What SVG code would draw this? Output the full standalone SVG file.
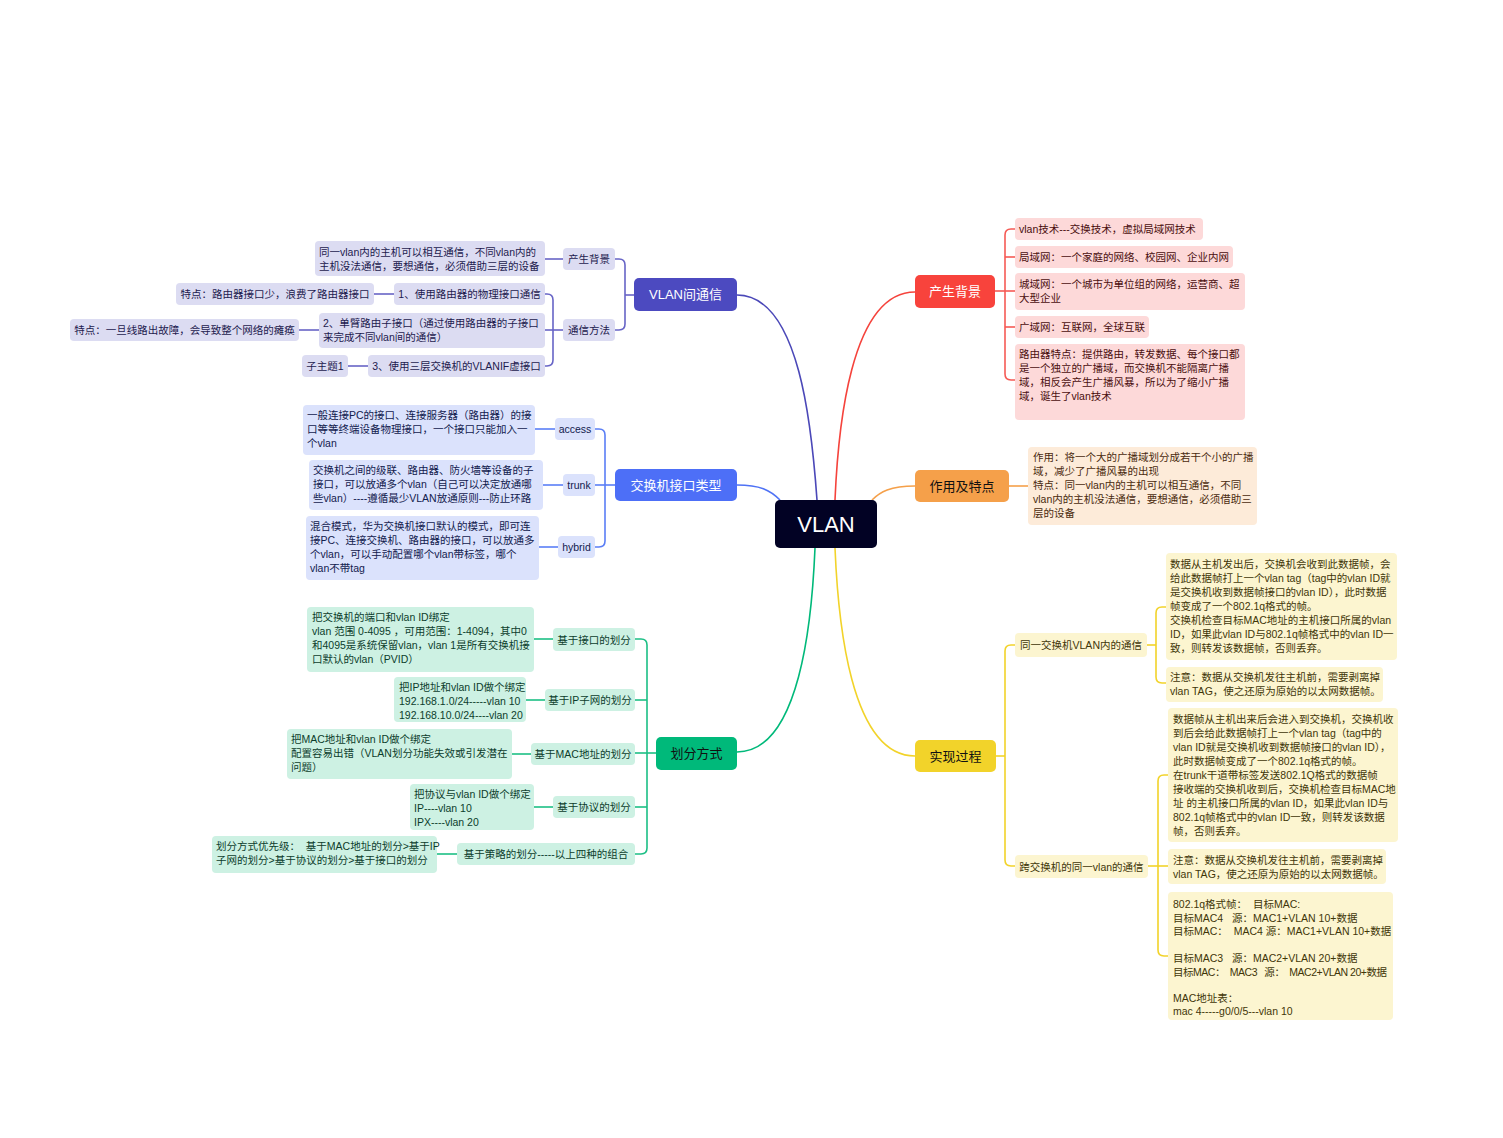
<svg xmlns="http://www.w3.org/2000/svg" width="1503" height="1138" viewBox="0 0 1503 1138">
<style>
text{font-family:"Liberation Sans","Noto Sans CJK SC",sans-serif;font-size:10.5px;white-space:pre}
.c{text-anchor:middle}
.br{font-size:13px;text-anchor:middle}
.w{fill:#fff}.k{fill:#111}
.pl rect{fill:#dcdcf2}.pl text{fill:#1c1a4e}
.bl rect{fill:#dbe2fc}.bl text{fill:#12204e}
.gr rect{fill:#cdf1e3}.gr text{fill:#0c3d2c}
.rd rect{fill:#fdd9d9}.rd text{fill:#4a0e0e}
.or rect{fill:#fdebd9}.or text{fill:#4a2a0e}
.ye rect{fill:#fcf5d0}.ye text{fill:#3f3508}
#links path{fill:none;stroke-width:1.6}
</style>
<rect width="1503" height="1138" fill="#fff"/>
<g id="links">
<path d="M737,295 C800,295 812,430 817,500" stroke="#4b48b8" stroke-width="2"/>
<path d="M915,292 C850,292 838,430 835,500" stroke="#f5433c" stroke-width="2"/>
<path d="M737,485 C760,485 770,490 780,500" stroke="#4f72f5" stroke-width="2"/>
<path d="M915,486 C890,486 880,492 872,500" stroke="#f5a04a" stroke-width="2"/>
<path d="M737,752 C800,752 812,620 815,548" stroke="#00b97a" stroke-width="2"/>
<path d="M915,756 C850,756 838,620 835,548" stroke="#f2d32a" stroke-width="2"/>
<g stroke="#6764c6">
<path d="M634,295 H625"/>
<path d="M615,259 H619 Q625,259 625,265 V324 Q625,330 619,330 H615"/>
<path d="M545,259 H563"/>
<path d="M563,330 H545"/>
<path d="M545,294 H547 Q553,294 553,300 V360 Q553,366 547,366 H545"/>
<path d="M374,294 H394"/>
<path d="M299,330 H319"/>
<path d="M348,366 H368"/>
</g>
<g stroke="#5a7ef6">
<path d="M615,485 H595"/>
<path d="M595,429 H599 Q605,429 605,435 V541 Q605,547 599,547 H595"/>
<path d="M535,429 H555"/>
<path d="M543,485 H563"/>
<path d="M539,547 H558"/>
</g>
<g stroke="#1cbf85">
<path d="M656,753 H635"/>
<path d="M635,639 H641 Q647,639 647,645 V848 Q647,854 641,854 H635"/>
<path d="M647,700 H635"/>
<path d="M647,807 H635"/>
<path d="M534,639 H553"/>
<path d="M526,700 H545"/>
<path d="M512,754 H531"/>
<path d="M534,807 H553"/>
<path d="M437,854 H457"/>
</g>
<g stroke="#f55a55">
<path d="M995,291 H1015"/>
<path d="M1015,229 H1011 Q1005,229 1005,235 V374 Q1005,380 1011,380 H1015"/>
<path d="M1005,257 H1015"/>
<path d="M1005,327 H1015"/>
</g>
<g stroke="#f5a04a">
<path d="M1009,486 H1028"/>
</g>
<g stroke="#f2d32a">
<path d="M996,756 H1005"/>
<path d="M1015,645 H1011 Q1005,645 1005,651 V860 Q1005,866 1011,866 H1015"/>
<path d="M1147,645 H1156"/>
<path d="M1166,607 H1162 Q1156,607 1156,613 V677 Q1156,683 1162,683 H1166"/>
<path d="M1148,866 H1168"/>
<path d="M1168,775 H1164 Q1158,775 1158,781 V950 Q1158,956 1164,956 H1168"/>
</g>
</g>
<g id="root">
<rect x="775" y="500" width="102" height="48" rx="5" fill="#020224"/>
<text x="826" y="532" class="c" style="font-size:22px" fill="#fff">VLAN</text>
</g>
<g id="b-vlan-comm">
<rect x="634" y="278" width="103" height="33" rx="5" fill="#4c4ac0"/>
<text x="685.5" y="299" class="br w">VLAN间通信</text>
</g>
<g id="b-port-type">
<rect x="615" y="469" width="122" height="32" rx="5" fill="#4d6ff7"/>
<text x="676" y="490" class="br w">交换机接口类型</text>
</g>
<g id="b-divide">
<rect x="656" y="737" width="81" height="33" rx="5" fill="#00b97a"/>
<text x="696.5" y="758" class="br k">划分方式</text>
</g>
<g id="b-bg">
<rect x="915" y="275" width="80" height="33" rx="5" fill="#f8433c"/>
<text x="955" y="296" class="br w">产生背景</text>
</g>
<g id="b-feature">
<rect x="915" y="470" width="94" height="32" rx="5" fill="#f5a04a"/>
<text x="962" y="491" class="br k">作用及特点</text>
</g>
<g id="b-impl">
<rect x="915" y="740" width="81" height="32" rx="5" fill="#f2d32a"/>
<text x="955.5" y="761" class="br k">实现过程</text>
</g>
<g class="pl">
<g id="n-pl-bg"><rect x="563" y="248" width="52" height="22" rx="4"/><text x="589" y="263" class="c">产生背景</text></g>
<g id="n-pl-method"><rect x="563" y="319" width="52" height="22" rx="4"/><text x="589" y="334" class="c">通信方法</text></g>
<g id="n-pl-bg-leaf"><rect x="315" y="241" width="230" height="35" rx="4"/><text x="319" y="256">同一vlan内的主机可以相互通信，不同vlan内的</text><text x="319" y="270">主机没法通信，要想通信，必须借助三层的设备</text></g>
<g id="n-pl-m1"><rect x="394" y="283" width="151" height="22" rx="4"/><text x="469.5" y="298" class="c">1、使用路由器的物理接口通信</text></g>
<g id="n-pl-m1a"><rect x="176" y="283" width="198" height="22" rx="4"/><text x="275" y="298" class="c">特点：路由器接口少，浪费了路由器接口</text></g>
<g id="n-pl-m2"><rect x="319" y="313" width="226" height="35" rx="4"/><text x="323" y="327">2、单臂路由子接口（通过使用路由器的子接口</text><text x="323" y="341">来完成不同vlan间的通信）</text></g>
<g id="n-pl-m2a"><rect x="70" y="319" width="229" height="22" rx="4"/><text x="184.5" y="334" class="c">特点：一旦线路出故障，会导致整个网络的瘫痪</text></g>
<g id="n-pl-m3"><rect x="368" y="355" width="177" height="22" rx="4"/><text x="456.5" y="370" class="c">3、使用三层交换机的VLANIF虚接口</text></g>
<g id="n-pl-m3a"><rect x="302" y="355" width="46" height="22" rx="4"/><text x="325" y="370" class="c">子主题1</text></g>
</g>
<g class="bl">
<g id="n-access"><rect x="555" y="418" width="40" height="22" rx="4"/><text x="575" y="433" class="c">access</text></g>
<g id="n-trunk"><rect x="563" y="474" width="32" height="22" rx="4"/><text x="579" y="489" class="c">trunk</text></g>
<g id="n-hybrid"><rect x="558" y="536" width="37" height="22" rx="4"/><text x="576.5" y="551" class="c">hybrid</text></g>
<g id="n-access-leaf"><rect x="303" y="405" width="232" height="50" rx="4"/><text x="307" y="419">一般连接PC的接口、连接服务器（路由器）的接</text><text x="307" y="433">口等等终端设备物理接口，一个接口只能加入一</text><text x="307" y="447">个vlan</text></g>
<g id="n-trunk-leaf"><rect x="309" y="460" width="234" height="50" rx="4"/><text x="313" y="474">交换机之间的级联、路由器、防火墙等设备的子</text><text x="313" y="488">接口，可以放通多个vlan（自己可以决定放通哪</text><text x="313" y="502">些vlan）----遵循最少VLAN放通原则---防止环路</text></g>
<g id="n-hybrid-leaf"><rect x="306" y="516" width="233" height="64" rx="4"/><text x="310" y="530">混合模式，华为交换机接口默认的模式，即可连</text><text x="310" y="544">接PC、连接交换机、路由器的接口，可以放通多</text><text x="310" y="558">个vlan，可以手动配置哪个vlan带标签，哪个</text><text x="310" y="572">vlan不带tag</text></g>
</g>
<g class="gr">
<g id="n-gr-port"><rect x="553" y="628" width="82" height="23" rx="4"/><text x="594" y="644" class="c">基于接口的划分</text></g>
<g id="n-gr-ip"><rect x="545" y="689" width="90" height="22" rx="4"/><text x="590" y="704" class="c">基于IP子网的划分</text></g>
<g id="n-gr-mac"><rect x="531" y="743" width="104" height="22" rx="4"/><text x="583" y="758" class="c">基于MAC地址的划分</text></g>
<g id="n-gr-proto"><rect x="553" y="796" width="82" height="22" rx="4"/><text x="594" y="811" class="c">基于协议的划分</text></g>
<g id="n-gr-policy"><rect x="457" y="843" width="178" height="22" rx="4"/><text x="546" y="858" class="c">基于策略的划分-----以上四种的组合</text></g>
<g id="n-gr-port-leaf"><rect x="307" y="607" width="227" height="65" rx="4"/><text x="312" y="621">把交换机的端口和vlan ID绑定</text><text x="312" y="635">vlan 范围 0-4095 ，可用范围：1-4094，其中0</text><text x="312" y="649">和4095是系统保留vlan，vlan 1是所有交换机接</text><text x="312" y="663">口默认的vlan（PVID）</text></g>
<g id="n-gr-ip-leaf"><rect x="394" y="677" width="132" height="45" rx="4"/><text x="399" y="691">把IP地址和vlan ID做个绑定</text><text x="399" y="705">192.168.1.0/24-----vlan 10</text><text x="399" y="719">192.168.10.0/24----vlan 20</text></g>
<g id="n-gr-mac-leaf"><rect x="287" y="729" width="225" height="50" rx="4"/><text x="291" y="743">把MAC地址和vlan ID做个绑定</text><text x="291" y="757">配置容易出错（VLAN划分功能失效或引发潜在</text><text x="291" y="771">问题）</text></g>
<g id="n-gr-proto-leaf"><rect x="410" y="784" width="124" height="46" rx="4"/><text x="414" y="798">把协议与vlan ID做个绑定</text><text x="414" y="812">IP----vlan 10</text><text x="414" y="826">IPX----vlan 20</text></g>
<g id="n-gr-policy-leaf"><rect x="212" y="836" width="225" height="37" rx="4"/><text x="216" y="850">划分方式优先级：  基于MAC地址的划分&gt;基于IP</text><text x="216" y="864">子网的划分&gt;基于协议的划分&gt;基于接口的划分</text></g>
</g>
<g class="rd">
<g id="n-rd-1"><rect x="1015" y="218" width="188" height="22" rx="4"/><text x="1019" y="233">vlan技术---交换技术，虚拟局域网技术</text></g>
<g id="n-rd-2"><rect x="1015" y="246" width="218" height="22" rx="4"/><text x="1019" y="261">局域网：一个家庭的网络、校园网、企业内网</text></g>
<g id="n-rd-3"><rect x="1015" y="273" width="230" height="37" rx="4"/><text x="1019" y="288">城域网：一个城市为单位组的网络，运营商、超</text><text x="1019" y="302">大型企业</text></g>
<g id="n-rd-4"><rect x="1015" y="316" width="134" height="22" rx="4"/><text x="1019" y="331">广域网：互联网，全球互联</text></g>
<g id="n-rd-5"><rect x="1015" y="344" width="230" height="76" rx="4"/><text x="1019" y="358">路由器特点：提供路由，转发数据、每个接口都</text><text x="1019" y="372">是一个独立的广播域，而交换机不能隔离广播</text><text x="1019" y="386">域，相反会产生广播风暴，所以为了缩小广播</text><text x="1019" y="400">域，诞生了vlan技术</text></g>
</g>
<g class="or">
<g id="n-or-1"><rect x="1028" y="447" width="229" height="78" rx="4"/><text x="1033" y="461">作用：将一个大的广播域划分成若干个小的广播</text><text x="1033" y="475">域，减少了广播风暴的出现</text><text x="1033" y="489">特点：同一vlan内的主机可以相互通信，不同</text><text x="1033" y="503">vlan内的主机没法通信，要想通信，必须借助三</text><text x="1033" y="517">层的设备</text></g>
</g>
<g class="ye">
<g id="n-ye-same"><rect x="1015" y="633" width="132" height="24" rx="4"/><text x="1081" y="649" class="c">同一交换机VLAN内的通信</text></g>
<g id="n-ye-cross"><rect x="1015" y="855" width="133" height="23" rx="4"/><text x="1081.5" y="871" class="c">跨交换机的同一vlan的通信</text></g>
<g id="n-ye-same-1"><rect x="1166" y="553" width="231" height="107" rx="4"/><text x="1170" y="568">数据从主机发出后，交换机会收到此数据帧，会</text><text x="1170" y="582">给此数据帧打上一个vlan tag（tag中的vlan ID就</text><text x="1170" y="596">是交换机收到数据帧接口的vlan ID），此时数据</text><text x="1170" y="610">帧变成了一个802.1q格式的帧。</text><text x="1170" y="624">交换机检查目标MAC地址的主机接口所属的vlan</text><text x="1170" y="638">ID，如果此vlan ID与802.1q帧格式中的vlan ID一</text><text x="1170" y="652">致，则转发该数据帧，否则丢弃。</text></g>
<g id="n-ye-same-2"><rect x="1166" y="667" width="217" height="35" rx="4"/><text x="1170" y="681">注意：数据从交换机发往主机前，需要剥离掉</text><text x="1170" y="695">vlan TAG，使之还原为原始的以太网数据帧。</text></g>
<g id="n-ye-cross-1"><rect x="1168" y="708" width="230" height="134" rx="4"/><text x="1173" y="723">数据帧从主机出来后会进入到交换机，交换机收</text><text x="1173" y="737">到后会给此数据帧打上一个vlan tag（tag中的</text><text x="1173" y="751">vlan ID就是交换机收到数据帧接口的vlan ID），</text><text x="1173" y="765">此时数据帧变成了一个802.1q格式的帧。</text><text x="1173" y="779">在trunk干道带标签发送802.1Q格式的数据帧</text><text x="1173" y="793">接收端的交换机收到后，交换机检查目标MAC地</text><text x="1173" y="807">址 的主机接口所属的vlan ID，如果此vlan ID与</text><text x="1173" y="821">802.1q帧格式中的vlan ID一致，则转发该数据</text><text x="1173" y="835">帧，否则丢弃。</text></g>
<g id="n-ye-cross-2"><rect x="1168" y="849" width="218" height="35" rx="4"/><text x="1173" y="864">注意：数据从交换机发往主机前，需要剥离掉</text><text x="1173" y="878">vlan TAG，使之还原为原始的以太网数据帧。</text></g>
<g id="n-ye-cross-3"><rect x="1168" y="892" width="225" height="128" rx="4"/><text x="1173" y="908">802.1q格式帧：  目标MAC:</text><text x="1173" y="921.5">目标MAC4   源：MAC1+VLAN 10+数据</text><text x="1173" y="935">目标MAC：  MAC4 源：MAC1+VLAN 10+数据</text><text x="1173" y="962">目标MAC3   源：MAC2+VLAN 20+数据</text><text x="1173" y="975.5" textLength="214" lengthAdjust="spacing">目标MAC：  MAC3   源：  MAC2+VLAN 20+数据</text><text x="1173" y="1002">MAC地址表：</text><text x="1173" y="1015">mac 4-----g0/0/5---vlan 10</text></g>
</g>
</svg>
